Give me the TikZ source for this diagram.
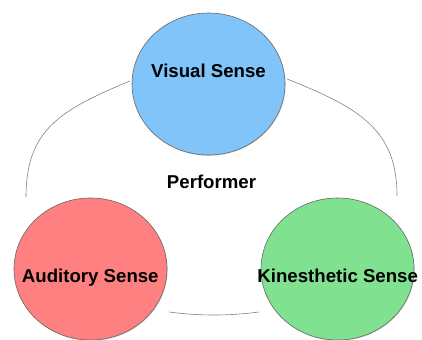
\documentclass[tikz,border=0pt]{standalone}
\usepackage{fontspec}
\setmainfont{Liberation Sans}
\usetikzlibrary{shapes.geometric,shadows}
\definecolor{visualblue}{RGB}{128,196,250}
\definecolor{auditoryred}{RGB}{255,128,128}
\definecolor{kinestheticgreen}{RGB}{128,226,144}

\begin{document}
\begin{tikzpicture}[x=0.03cm, y=-0.03cm,
    sense/.style={ellipse, draw=black!60, line width=0.5pt, minimum width=4.59cm, minimum height=4.26cm, inner sep=0pt,
        drop shadow={shadow xshift=0.5pt, shadow yshift=-0.7pt, opacity=0.35}},
    txt/.style={font=\fontsize{15.9}{19}\selectfont\bfseries, anchor=base, inner sep=0pt},
    link/.style={draw=black!50, line width=0.5pt}]
    \useasboundingbox (0,0) rectangle (422,340);

    % Koła
    \node[sense, fill=visualblue] (visual) at (208.5, 84) {};
    \node[sense, fill=auditoryred] (auditory) at (90.5, 269) {};
    \node[sense, fill=kinestheticgreen] (kinesthetic) at (337.5, 269) {};

    % Podpisy
    \node[txt] (visualtxt) at (208.5, 77.7) {Visual Sense};
    \node[txt] (auditorytxt) at (90.3, 282.7) {Auditory Sense};
    \node[txt] (kinesthetictxt) at (337.7, 282.7) {Kinesthetic Sense};
    \node[txt] (performer) at (211.5, 188.3) {Performer};

    % Łuki
    \coordinate (leftstart) at (130, 81);
    \coordinate (leftend) at (26, 197);
    \coordinate (rightstart) at (287, 79);
    \coordinate (rightend) at (397, 196);
    \coordinate (bottomstart) at (169, 312);
    \coordinate (bottomend) at (259, 312);

    \draw[link] (leftstart) .. controls (60, 110) and (26, 130) .. (leftend);
    \draw[link] (rightstart) .. controls (360, 108) and (397, 130) .. (rightend);
    \draw[link] (bottomstart) .. controls (200, 316) and (228, 316) .. (bottomend);

\end{tikzpicture}
\end{document}
